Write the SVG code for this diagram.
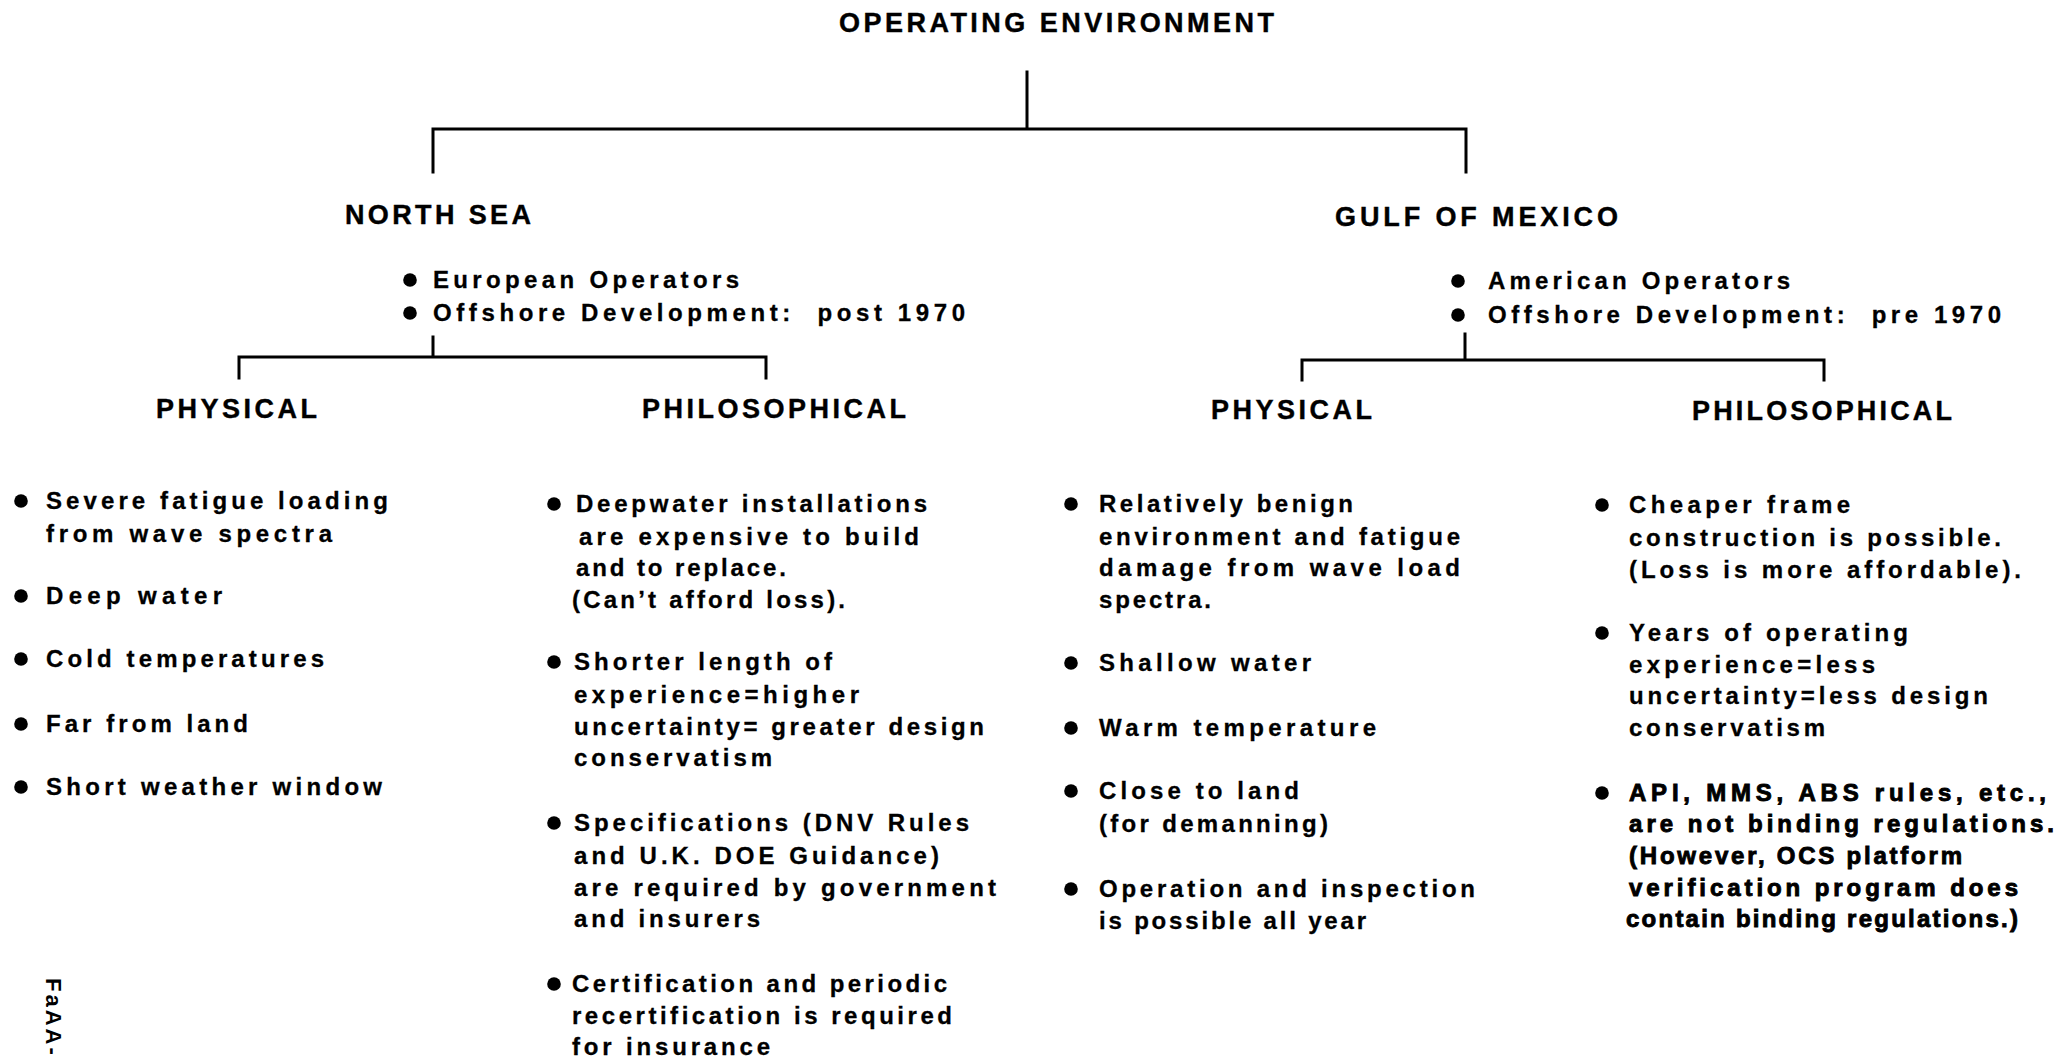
<svg xmlns="http://www.w3.org/2000/svg" width="2068" height="1059" viewBox="0 0 2068 1059">
<style>
  text { font-family: "Liberation Sans", Arial, Helvetica, sans-serif; font-weight: bold; fill: #000; white-space: pre; }
  .h { font-size: 27px; stroke: #000; stroke-width: 0.4px; }
  .b { font-size: 24px; stroke: #000; stroke-width: 0.3px; }
  .heavy { stroke-width: 0.9px; }
  .ln { fill: none; stroke: #000; stroke-width: 3; stroke-linecap: square; }
  .dot { fill: #000; }
  .ref { font-size: 22px; letter-spacing: 3px; }
</style>
<rect width="2068" height="1059" fill="#fff"/>

<g id="connectors">
  <path class="ln" d="M1027 72 V129 M433 172 V129 H1466 V172"/>
  <path class="ln" d="M433 337 V357 M239 378 V357 H766 V378"/>
  <path class="ln" d="M1465 334 V360 M1302 380 V360 H1824 V380"/>
</g>

<g id="root">
  <text class="h" x="839" y="32" textLength="435" lengthAdjust="spacing">OPERATING ENVIRONMENT</text>
</g>

<g id="north-sea">
  <text class="h" x="345" y="224" textLength="186" lengthAdjust="spacing">NORTH SEA</text>
  <circle class="dot" cx="410" cy="280" r="6.8"/>
  <text class="b" x="433" y="288" textLength="306" lengthAdjust="spacing">European Operators</text>
  <circle class="dot" cx="410" cy="313" r="6.8"/>
  <text class="b" x="433" y="321" textLength="532" lengthAdjust="spacing">Offshore Development:  post 1970</text>
</g>

<g id="gulf-of-mexico">
  <text class="h" x="1335" y="226" textLength="283" lengthAdjust="spacing">GULF OF MEXICO</text>
  <circle class="dot" cx="1458" cy="281" r="6.8"/>
  <text class="b" x="1488" y="289" textLength="302" lengthAdjust="spacing">American Operators</text>
  <circle class="dot" cx="1458" cy="315" r="6.8"/>
  <text class="b" x="1488" y="323" textLength="513" lengthAdjust="spacing">Offshore Development:  pre 1970</text>
</g>

<g id="ns-physical">
  <text class="h" x="156" y="418" textLength="161" lengthAdjust="spacing">PHYSICAL</text>
  <circle class="dot" cx="21" cy="501" r="6.8"/>
  <text class="b" x="46" y="509" textLength="342" lengthAdjust="spacing">Severe fatigue loading</text>
  <text class="b" x="46" y="542" textLength="286" lengthAdjust="spacing">from wave spectra</text>
  <circle class="dot" cx="21" cy="596" r="6.8"/>
  <text class="b" x="46" y="604" textLength="176" lengthAdjust="spacing">Deep water</text>
  <circle class="dot" cx="21" cy="659" r="6.8"/>
  <text class="b" x="46" y="667" textLength="278" lengthAdjust="spacing">Cold temperatures</text>
  <circle class="dot" cx="21" cy="724" r="6.8"/>
  <text class="b" x="46" y="732" textLength="202" lengthAdjust="spacing">Far from land</text>
  <circle class="dot" cx="21" cy="787" r="6.8"/>
  <text class="b" x="46" y="795" textLength="336" lengthAdjust="spacing">Short weather window</text>
</g>

<g id="ns-philosophical">
  <text class="h" x="642" y="418" textLength="264" lengthAdjust="spacing">PHILOSOPHICAL</text>
  <circle class="dot" cx="554" cy="504" r="6.8"/>
  <text class="b" x="576" y="512" textLength="351" lengthAdjust="spacing">Deepwater installations</text>
  <text class="b" x="579" y="545" textLength="340" lengthAdjust="spacing">are expensive to build</text>
  <text class="b" x="576" y="576" textLength="210" lengthAdjust="spacing">and to replace.</text>
  <text class="b" x="572" y="608" textLength="273" lengthAdjust="spacing">(Can’t afford loss).</text>
  <circle class="dot" cx="554" cy="662" r="6.8"/>
  <text class="b" x="574" y="670" textLength="258" lengthAdjust="spacing">Shorter length of</text>
  <text class="b" x="574" y="703" textLength="285" lengthAdjust="spacing">experience=higher</text>
  <text class="b" x="574" y="735" textLength="410" lengthAdjust="spacing">uncertainty= greater design</text>
  <text class="b" x="574" y="766" textLength="198" lengthAdjust="spacing">conservatism</text>
  <circle class="dot" cx="554" cy="823" r="6.8"/>
  <text class="b" x="574" y="831" textLength="395" lengthAdjust="spacing">Specifications (DNV Rules</text>
  <text class="b" x="574" y="864" textLength="365" lengthAdjust="spacing">and U.K. DOE Guidance)</text>
  <text class="b" x="574" y="896" textLength="422" lengthAdjust="spacing">are required by government</text>
  <text class="b" x="574" y="927" textLength="186" lengthAdjust="spacing">and insurers</text>
  <circle class="dot" cx="554" cy="984" r="6.8"/>
  <text class="b" x="572" y="992" textLength="375" lengthAdjust="spacing">Certification and periodic</text>
  <text class="b" x="572" y="1024" textLength="380" lengthAdjust="spacing">recertification is required</text>
  <text class="b" x="572" y="1055" textLength="198" lengthAdjust="spacing">for insurance</text>
</g>

<g id="gom-physical">
  <text class="h" x="1211" y="419" textLength="161" lengthAdjust="spacing">PHYSICAL</text>
  <circle class="dot" cx="1071" cy="504" r="6.8"/>
  <text class="b" x="1099" y="512" textLength="254" lengthAdjust="spacing">Relatively benign</text>
  <text class="b" x="1099" y="545" textLength="361" lengthAdjust="spacing">environment and fatigue</text>
  <text class="b" x="1099" y="576" textLength="361" lengthAdjust="spacing">damage from wave load</text>
  <text class="b" x="1099" y="608" textLength="112" lengthAdjust="spacing">spectra.</text>
  <circle class="dot" cx="1071" cy="663" r="6.8"/>
  <text class="b" x="1099" y="671" textLength="212" lengthAdjust="spacing">Shallow water</text>
  <circle class="dot" cx="1071" cy="728" r="6.8"/>
  <text class="b" x="1099" y="736" textLength="277" lengthAdjust="spacing">Warm temperature</text>
  <circle class="dot" cx="1071" cy="791" r="6.8"/>
  <text class="b" x="1099" y="799" textLength="200" lengthAdjust="spacing">Close to land</text>
  <text class="b" x="1099" y="832" textLength="229" lengthAdjust="spacing">(for demanning)</text>
  <circle class="dot" cx="1071" cy="889" r="6.8"/>
  <text class="b" x="1099" y="897" textLength="376" lengthAdjust="spacing">Operation and inspection</text>
  <text class="b" x="1099" y="929" textLength="267" lengthAdjust="spacing">is possible all year</text>
</g>

<g id="gom-philosophical">
  <text class="h" x="1692" y="420" textLength="260" lengthAdjust="spacing">PHILOSOPHICAL</text>
  <circle class="dot" cx="1602" cy="505" r="6.8"/>
  <text class="b" x="1629" y="513" textLength="221" lengthAdjust="spacing">Cheaper frame</text>
  <text class="b" x="1629" y="546" textLength="372" lengthAdjust="spacing">construction is possible.</text>
  <text class="b" x="1629" y="578" textLength="392" lengthAdjust="spacing">(Loss is more affordable).</text>
  <circle class="dot" cx="1602" cy="633" r="6.8"/>
  <text class="b" x="1629" y="641" textLength="279" lengthAdjust="spacing">Years of operating</text>
  <text class="b" x="1629" y="673" textLength="246" lengthAdjust="spacing">experience=less</text>
  <text class="b" x="1629" y="704" textLength="359" lengthAdjust="spacing">uncertainty=less design</text>
  <text class="b" x="1629" y="736" textLength="196" lengthAdjust="spacing">conservatism</text>
  <circle class="dot" cx="1602" cy="793" r="6.8"/>
  <text class="b heavy" x="1629" y="801" textLength="417" lengthAdjust="spacing">API, MMS, ABS rules, etc.,</text>
  <text class="b heavy" x="1629" y="832" textLength="425" lengthAdjust="spacing">are not binding regulations.</text>
  <text class="b heavy" x="1629" y="864" textLength="333" lengthAdjust="spacing">(However, OCS platform</text>
  <text class="b heavy" x="1629" y="896" textLength="389" lengthAdjust="spacing">verification program does</text>
  <text class="b heavy" x="1626" y="927" textLength="392" lengthAdjust="spacing">contain binding regulations.)</text>
</g>

<g id="figure-ref">
  <text class="ref" transform="translate(46 978) rotate(90)">FaAA-</text>
</g>
</svg>
